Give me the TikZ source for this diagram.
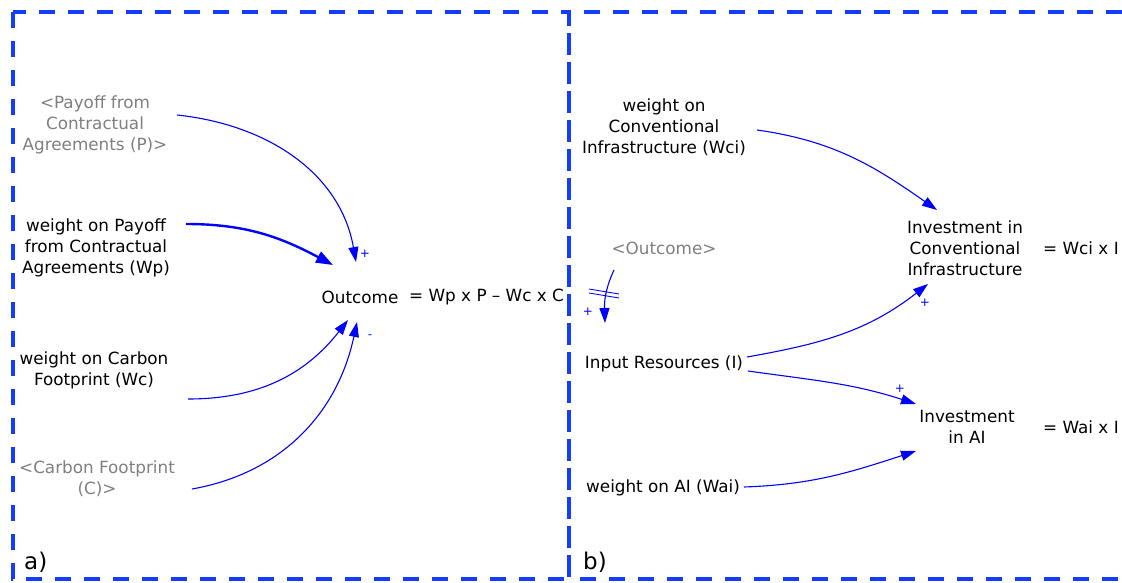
\documentclass[tikz,border=0pt]{standalone}
\usepackage{fontspec}
\setmainfont{DejaVu Sans}
\usetikzlibrary{arrows.meta}
\definecolor{boxblue}{RGB}{20,60,255}
\definecolor{arrblue}{RGB}{0,0,255}
\definecolor{shadowgray}{RGB}{128,128,128}
\tikzset{
  var/.style={align=center, inner sep=0pt, font=\fontsize{16.8}{21}\selectfont, text=black},
  shadowvar/.style={var, text=shadowgray},
  panel/.style={draw=boxblue, line width=4pt, dash pattern=on 16pt off 13pt},
  link/.style={draw=arrblue, line width=1.1pt, -{Triangle[length=15pt,width=10pt]}},
  thicklink/.style={draw=arrblue, line width=2.4pt, -{Triangle[length=17pt,width=12pt]}},
  pol/.style={text=arrblue, font=\fontsize{12}{13}\selectfont, inner sep=0pt},
  tag/.style={font=\fontsize{23}{26}\selectfont, inner sep=0pt, anchor=west},
}
\begin{document}
\begin{tikzpicture}[x=1pt,y=1pt]
\useasboundingbox (0,0) rectangle (1122,-583);
\fill[white] (0,0) rectangle (1122,-583);
% panels
\draw[panel] (13,-12) rectangle (569,-579);
\draw[panel] (1122,-12) -- (569,-12) -- (569,-579) -- (1122,-579);
\node[tag] (ta) at (24,-562) {a)};
\node[tag] (tb) at (583,-562) {b)};
% panel a
\node[shadowvar] (P) at (95,-125) {<Payoff from\\Contractual\\Agreements (P)>};
\node[var] (Wp) at (96,-248) {weight on Payoff\\from Contractual\\Agreements (Wp)};
\node[var] (Wc) at (94,-370) {weight on Carbon\\Footprint (Wc)};
\node[shadowvar] (C) at (97,-479) {<Carbon Footprint\\(C)>};
\node[var] (O) at (360,-297) {Outcome};
\node[var, anchor=west] (Oeq) at (409,-297) {= Wp x P – Wc x C};
\draw[link] ([shift={(82,10)}]P.center) to[out=-6,in=100] ([shift={(-4,35)}]O.center);
\draw[thicklink] ([shift={(90,24)}]Wp.center) to[out=0,in=152] ([shift={(-27,32)}]O.center);
\draw[link] ([shift={(94,-29)}]Wc.center) to[out=0,in=232] ([shift={(-12,-23)}]O.center);
\draw[link] ([shift={(95,-10)}]C.center) to[out=10,in=258] ([shift={(-3,-25)}]O.center);
\node[pol] (p1) at (365,-254) {+};
\node[pol] (m1) at (370,-337) {-};
% panel b
\node[var] (Wci) at (664,-127) {weight on\\Conventional\\Infrastructure (Wci)};
\node[shadowvar] (O2) at (664,-248) {<Outcome>};
\node[var] (I) at (664,-364) {Input Resources (I)};
\node[var] (Wai) at (663,-488) {weight on AI (Wai)};
\node[var] (CI) at (965,-248) {Investment in\\Conventional\\Infrastructure};
\node[var, anchor=west] (CIeq) at (1043,-248) {= Wci x I};
\node[var] (AI) at (967,-427) {Investment\\in AI};
\node[var, anchor=west] (AIeq) at (1043,-427) {= Wai x I};
\draw[link] ([shift={(93,-3)}]Wci.center) to[out=-8,in=145] ([shift={(-28,38)}]CI.center);
\draw[link] ([shift={(-50,-22)}]O2.center) to[out=-115,in=92] ([shift={(-59,41)}]I.center);
\coordinate (h1a) at (589,-289); \coordinate (h1b) at (619,-294);
\coordinate (h2a) at (589,-293); \coordinate (h2b) at (619,-298);
\draw[arrblue, line width=0.9pt] (h1a) -- (h1b);
\draw[arrblue, line width=0.9pt] (h2a) -- (h2b);
\draw[link] ([shift={(83,7)}]I.center) to[out=10,in=218] ([shift={(-37,-36)}]CI.center);
\draw[link] ([shift={(84,-7)}]I.center) to[out=-8,in=162] ([shift={(-51,23)}]AI.center);
\draw[link] ([shift={(81,1)}]Wai.center) to[out=2,in=198] ([shift={(-51,-24)}]AI.center);
\node[pol] (p2) at (588,-312) {+};
\node[pol] (p3) at (925,-303) {+};
\node[pol] (p4) at (900,-389) {+};
\end{tikzpicture}
\end{document}
